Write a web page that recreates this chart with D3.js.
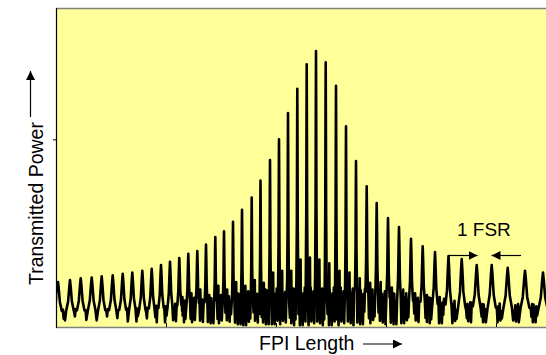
<!DOCTYPE html>
<html><head><meta charset="utf-8">
<script src="https://cdn.jsdelivr.net/npm/d3@7"></script>
<style>html,body{margin:0;padding:0;background:#fff;} svg{display:block;}</style>
</head><body>
<svg id="c" width="546" height="355"></svg>
<script>
// FPI length positions of transmission peaks (arbitrary units) and their transmitted power
const peakPos = [2, 14, 24.7, 35.7, 45.7, 56.7, 66.7, 76.3, 86.3, 95.7, 105, 114, 123.3, 132.3, 141.3, 150, 159.3, 168, 177, 186, 195.7, 204.5, 214, 223, 232, 241.3, 250.7, 260, 269.7, 280, 290, 300, 310.7, 320.7, 332, 343, 355, 366.7, 379, 392.5, 405.7, 420.7, 435.7, 451.7, 469, 487];
const peakVal = [0.24, 0.25, 0.26, 0.264, 0.27, 0.275, 0.283, 0.29, 0.30, 0.31, 0.33, 0.347, 0.368, 0.39, 0.405, 0.44, 0.48, 0.51, 0.56, 0.624, 0.69, 0.78, 0.89, 1.0, 1.14, 1.27, 1.40, 1.47, 1.41, 1.285, 1.07, 0.885, 0.75, 0.66, 0.58, 0.533, 0.47, 0.43, 0.40, 0.378, 0.362, 0.33, 0.33, 0.315, 0.30, 0.29];
const peakWidth = [1.9, 1.9, 1.9, 1.9, 1.8, 1.8, 1.7, 1.6, 1.5, 1.4, 1.3, 1.2, 1.0, 0.9, 0.8, 0.7, 0.6, 0.55, 0.5, 0.5, 0.45, 0.45, 0.45, 0.45, 0.45, 0.45, 0.45, 0.45, 0.45, 0.45, 0.45, 0.5, 0.6, 0.7, 0.8, 0.9, 1.0, 1.1, 1.3, 1.5, 1.7, 1.9, 2.0, 2.1, 2.2, 2.2];
// noise floor between consecutive peaks (centre level and half spread) and secondary spikes
const floorMid = [0.065, 0.065, 0.065, 0.065, 0.065, 0.065, 0.065, 0.07, 0.07, 0.07, 0.075, 0.08, 0.085, 0.09, 0.09, 0.09, 0.095, 0.1, 0.1, 0.1, 0.105, 0.11, 0.11, 0.11, 0.11, 0.11, 0.11, 0.11, 0.11, 0.11, 0.11, 0.11, 0.11, 0.105, 0.1, 0.1, 0.095, 0.09, 0.085, 0.08, 0.08, 0.075, 0.075, 0.075, 0.075, 0.075];
const floorAmp = [0.03, 0.03, 0.03, 0.03, 0.03, 0.03, 0.035, 0.04, 0.04, 0.045, 0.05, 0.055, 0.06, 0.065, 0.07, 0.07, 0.075, 0.08, 0.085, 0.09, 0.09, 0.095, 0.095, 0.095, 0.1, 0.1, 0.1, 0.1, 0.1, 0.1, 0.1, 0.095, 0.09, 0.09, 0.085, 0.08, 0.075, 0.07, 0.065, 0.06, 0.055, 0.05, 0.05, 0.05, 0.05, 0.05];
const subSpike = [0, 0, 0, 0, 0, 0, 0, 0, 0, 0, 0, 0, 0.16, 0.18, 0.2, 0.17, 0.22, 0.2, 0.24, 0.22, 0.25, 0.235, 0.29, 0.30, 0.30, 0.36, 0.37, 0.36, 0.34, 0.30, 0.29, 0.26, 0.235, 0.24, 0.21, 0.2, 0.18, 0.17, 0.16, 0, 0, 0, 0, 0, 0, 0];
const texture = [0.9, -0.7, 0.4, -1, 0.7, -0.3, 1, -0.8, 0.2, -0.6, 0.8, -0.9, 0.5, -0.4, 0.95, -1];
const startVal = 0.14;
const xTicks = [110, 220, 330, 440];
const yTicks = [1.0];
const xLabel = "FPI Length";
const yLabel = "Transmitted Power";
const fsrLabel = "1 FSR";

const plot = {left: 56, top: 8, right: 546, bottom: 327};
const x = d3.scaleLinear().domain([0, 490]).range([plot.left, plot.right]);
const y = d3.scaleLinear().domain([0, 1.7]).range([plot.bottom, plot.top]);
const svg = d3.select("#c");
const font = "'Liberation Sans', Arial, Helvetica, sans-serif";

const defs = svg.append("defs");
defs.append("clipPath").attr("id", "clip").append("rect")
  .attr("x", plot.left).attr("y", plot.top).attr("width", plot.right - plot.left).attr("height", plot.bottom - plot.top);
defs.append("marker").attr("id", "ah").attr("viewBox", "0 0 10 10").attr("refX", 10).attr("refY", 5)
  .attr("markerWidth", 9).attr("markerHeight", 9).attr("markerUnits", "userSpaceOnUse").attr("orient", "auto")
  .append("path").attr("d", "M0,0 L10,5 L0,10 Z").attr("fill", "#000");

svg.append("rect").attr("x", plot.left).attr("y", plot.top).attr("width", plot.right - plot.left)
  .attr("height", plot.bottom - plot.top).attr("fill", "#ffff99");

// build trace
const pts = [[0, startVal]];
const prof = [[-2, 0.12], [-1, 0.38], [-0.35, 0.82], [0, 1], [0.35, 0.82], [1, 0.38], [2, 0.12]];
for (let i = 0; i < peakPos.length; i++) {
  const px = peakPos[i], p = peakVal[i], w = peakWidth[i];
  const fPrev = i > 0 ? floorMid[i - 1] : startVal;
  const fNext = floorMid[i];
  prof.forEach(([k, f]) => {
    const base = k < 0 ? fPrev : fNext;
    const xx = px + k * w;
    if (xx >= 0) pts.push([xx, base + (p - base) * f]);
  });
  if (i < peakPos.length - 1) {
    const start = px + 2.6 * w, end = peakPos[i + 1] - 2.6 * peakWidth[i + 1];
    const spikeAt = px + (peakPos[i + 1] - px) * 0.35;
    let spikeDone = !subSpike[i];
    let k = 0;
    for (let xx = start; xx < end; xx += 0.7, k++) {
      if (!spikeDone && xx >= spikeAt) {
        pts.push([spikeAt - 0.3, floorMid[i]]);
        pts.push([spikeAt, subSpike[i]]);
        pts.push([spikeAt + 0.3, floorMid[i]]);
        spikeDone = true;
      }
      pts.push([xx, floorMid[i] + floorAmp[i] * texture[(k + i * 5) % texture.length]]);
    }
  } else {
    pts.push([490, floorMid[i] + 0.1]);
  }
}
const line = d3.line().x(d => x(d[0])).y(d => y(d[1]));
svg.append("path").attr("clip-path", "url(#clip)").attr("d", line(pts))
  .attr("fill", "none").attr("stroke", "#000").attr("stroke-width", 2.6).attr("stroke-linejoin", "round");

// frame
svg.append("line").attr("x1", plot.left).attr("x2", plot.right).attr("y1", plot.top + 0.5).attr("y2", plot.top + 0.5)
  .attr("stroke", "#808080").attr("stroke-width", 1.5);
svg.append("line").attr("x1", plot.left).attr("x2", plot.right).attr("y1", plot.bottom + 0.5).attr("y2", plot.bottom + 0.5)
  .attr("stroke", "#808080").attr("stroke-width", 1.5);
svg.append("line").attr("x1", plot.left + 0.5).attr("x2", plot.left + 0.5).attr("y1", plot.top).attr("y2", plot.bottom + 1)
  .attr("stroke", "#000").attr("stroke-width", 1.2);

// ticks
const xAxis = d3.axisTop(x).tickValues(xTicks).tickSize(4).tickFormat("");
const gx = svg.append("g").attr("transform", `translate(0,${plot.bottom})`).call(xAxis);
gx.select(".domain").remove();
gx.selectAll("line").attr("stroke", "#000");
const yAxis = d3.axisLeft(y).tickValues(yTicks).tickSize(3).tickFormat("");
const gy = svg.append("g").attr("transform", `translate(${plot.left},0)`).call(yAxis);
gy.select(".domain").remove();
gy.selectAll("line").attr("stroke", "#000");

// axis labels
svg.append("text").attr("x", 259).attr("y", 350).attr("font-family", font).attr("font-size", 19.5)
  .attr("fill", "#000").text(xLabel);
svg.append("line").attr("x1", 363).attr("x2", 402).attr("y1", 344).attr("y2", 344)
  .attr("stroke", "#000").attr("stroke-width", 1.2).attr("marker-end", "url(#ah)");

svg.append("text").attr("transform", "translate(43,285) rotate(-90)").attr("font-family", font).attr("font-size", 19.5)
  .attr("fill", "#000").text(yLabel);
svg.append("line").attr("x1", 30.5).attr("x2", 30.5).attr("y1", 117).attr("y2", 71)
  .attr("stroke", "#000").attr("stroke-width", 1.2).attr("marker-end", "url(#ah)");

// FSR annotation
svg.append("text").attr("x", 457).attr("y", 236).attr("font-family", font).attr("font-size", 19)
  .attr("fill", "#000").text(fsrLabel);
svg.append("line").attr("x1", 448).attr("x2", 477.5).attr("y1", 255.5).attr("y2", 255.5)
  .attr("stroke", "#000").attr("stroke-width", 1.2).attr("marker-end", "url(#ah)");
svg.append("line").attr("x1", 521).attr("x2", 491.5).attr("y1", 255.5).attr("y2", 255.5)
  .attr("stroke", "#000").attr("stroke-width", 1.2).attr("marker-end", "url(#ah)");
</script>
</body></html>
